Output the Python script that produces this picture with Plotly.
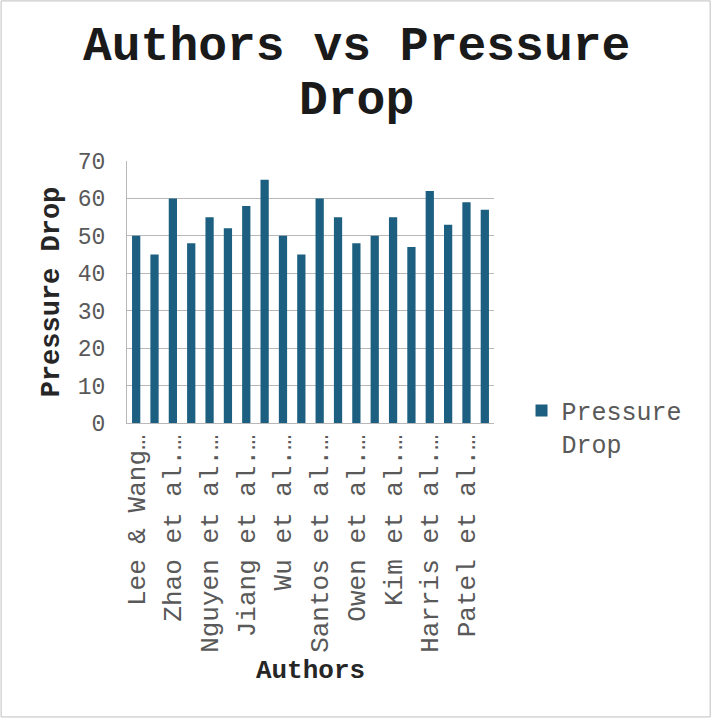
import plotly.graph_objects as go

# Studies in plotting order and their reported pressure drop
authors = [
    "Lee & Wang", "Chen et al.", "Zhao et al.", "Park et al.",
    "Nguyen et al.", "Ali et al.", "Jiang et al.", "Singh et al.",
    "Wu et al.", "Garcia et al.", "Santos et al.", "Liu et al.",
    "Owen et al.", "Brown et al.", "Kim et al.", "Rossi et al.",
    "Harris et al.", "Tanaka et al.", "Patel et al.", "Smith et al.",
]
pressure_drop = [50, 45, 60, 48, 55, 52, 58, 65, 50, 45,
                 60, 55, 48, 50, 55, 47, 62, 53, 59, 57]

# Only every other category gets a (shortened) label on the axis
label_idx = list(range(0, len(authors), 2))
tick_labels = ["Lee & Wang…", "Zhao et al.…", "Nguyen et al.…", "Jiang et al.…",
               "Wu et al.…", "Santos et al.…", "Owen et al.…", "Kim et al.…",
               "Harris et al.…", "Patel et al.…"]
y_ticks = [0, 10, 20, 30, 40, 50, 60, 70]

MONO = "Courier New, Liberation Mono, monospace"
BAR = "#1c5f80"
GRID = "#b8b8b8"

fig = go.Figure(
    go.Bar(
        x=authors,
        y=pressure_drop,
        name="Pressure<br>Drop",
        marker=dict(color=BAR, line=dict(width=0)),
    )
)

fig.update_layout(
    width=712,
    height=719,
    margin=dict(l=127, r=218, t=161, b=296),
    paper_bgcolor="white",
    plot_bgcolor="white",
    bargap=0.55,
    font=dict(family=MONO, color="#595959"),
    showlegend=True,
    legend=dict(
        x=1.075, xanchor="left",
        y=0.135, yanchor="top",
        valign="top",
        font=dict(family=MONO, size=25, color="#595959"),
        bgcolor="rgba(0,0,0,0)",
    ),
    xaxis=dict(
        type="category",
        tickmode="array",
        tickvals=[authors[i] for i in label_idx],
        ticktext=tick_labels,
        tickangle=-90,
        tickfont=dict(family=MONO, size=26, color="#595959"),
        showgrid=False,
        showline=True,
        linecolor=GRID,
        linewidth=1,
        ticks="",
        title=dict(text="<b>Authors</b>", font=dict(family=MONO, size=26, color="#262626"),
                   standoff=7),
    ),
    yaxis=dict(
        range=[0, 70],
        tickvals=y_ticks,
        tickfont=dict(family=MONO, size=23, color="#595959"),
        ticklabelstandoff=16,
        showgrid=True,
        gridcolor=GRID,
        gridwidth=1,
        showline=True,
        linecolor=GRID,
        zeroline=False,
        ticks="",
        title=dict(text="<b>Pressure Drop</b>", font=dict(family=MONO, size=27, color="#262626"),
                   standoff=10),
    ),
    annotations=[
        dict(text="<b>Authors vs Pressure</b>", xref="paper", yref="paper",
             x=0.624, y=1.435, xanchor="center", yanchor="middle", showarrow=False,
             font=dict(family=MONO, size=48, color="#1a1a1a")),
        dict(text="<b>Drop</b>", xref="paper", yref="paper",
             x=0.624, y=1.23, xanchor="center", yanchor="middle", showarrow=False,
             font=dict(family=MONO, size=48, color="#1a1a1a")),
    ],
    shapes=[
        dict(type="rect", xref="paper", yref="paper",
             x0=-0.343, x1=1.589, y0=-1.122, y1=1.611,
             line=dict(color="#bfbfbf", width=1), fillcolor="rgba(0,0,0,0)"),
    ],
)

fig.write_html("out.html")
